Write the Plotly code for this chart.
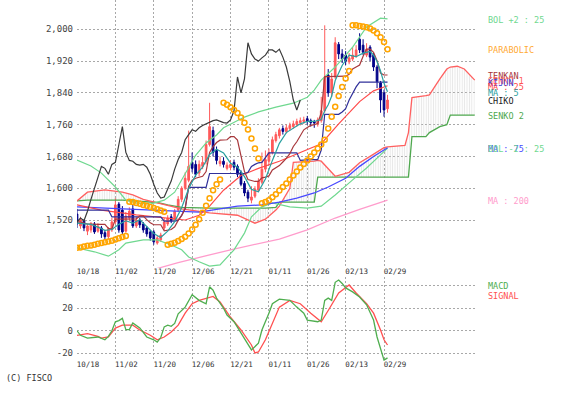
import plotly.graph_objects as go

# ------------------------------------------------------------------ data
tick_bars = [0, 11, 22, 33, 44, 55, 66, 77, 88]
tick_labels = ["10/18", "11/02", "11/20", "12/06", "12/21", "01/11", "01/26", "02/13", "02/29"]

price_ticks = [1520, 1600, 1680, 1760, 1840, 1920, 2000]
macd_ticks = [40, 20, 0, -20]
macd_tick_labels = ["40", "20", "0", "-20"]

open_ = [1535, 1505, 1518, 1492, 1495, 1510, 1492, 1500, 1488, 1478,
         1495, 1515, 1560, 1545, 1492, 1525, 1548, 1505, 1520, 1510,
         1500, 1490, 1490, 1462, 1470, 1500, 1510, 1528, 1520, 1545,
         1572, 1600, 1620, 1665, 1660, 1638, 1655, 1668, 1710, 1745,
         1695, 1662, 1668, 1650, 1652, 1665, 1655, 1640, 1612, 1590,
         1570, 1580, 1595, 1615, 1648, 1668, 1690, 1720, 1732, 1750,
         1742, 1750, 1755, 1760, 1765, 1768, 1775, 1770, 1768, 1762,
         1770, 1795, 1885, 1840, 1880, 1962, 1938, 1935, 1918, 1925,
         1932, 1975, 1960, 1935, 1955, 1935, 1905, 1865, 1840, 1800]
high = [1548, 1528, 1522, 1510, 1515, 1515, 1512, 1505, 1495, 1502,
        1525, 1575, 1565, 1555, 1540, 1552, 1558, 1528, 1525, 1515,
        1505, 1495, 1495, 1480, 1488, 1525, 1532, 1535, 1548, 1580,
        1605, 1640, 1745, 1690, 1670, 1670, 1680, 1720, 1815, 1755,
        1705, 1680, 1678, 1665, 1670, 1672, 1660, 1645, 1618, 1596,
        1605, 1605, 1625, 1690, 1695, 1700, 1730, 1742, 1752, 1758,
        1760, 1765, 1770, 1775, 1778, 1780, 1782, 1775, 1772, 1778,
        1830, 2010, 1900, 1890, 1980, 1968, 1950, 1945, 1940, 1955,
        1960, 1990, 1975, 1965, 1960, 1940, 1910, 1870, 1848, 1835]
low = [1500, 1498, 1492, 1482, 1488, 1485, 1488, 1475, 1470, 1472,
       1490, 1510, 1488, 1485, 1488, 1518, 1500, 1500, 1500, 1488,
       1478, 1468, 1458, 1458, 1465, 1495, 1505, 1512, 1515, 1540,
       1565, 1595, 1615, 1640, 1628, 1630, 1648, 1660, 1705, 1680,
       1660, 1655, 1652, 1645, 1645, 1645, 1628, 1605, 1580, 1565,
       1562, 1575, 1590, 1610, 1640, 1660, 1685, 1715, 1725, 1735,
       1738, 1745, 1750, 1755, 1758, 1762, 1760, 1755, 1752, 1755,
       1765, 1790, 1830, 1830, 1875, 1925, 1915, 1910, 1912, 1920,
       1928, 1940, 1935, 1930, 1920, 1895, 1852, 1790, 1780, 1790]
close = [1510, 1520, 1500, 1505, 1510, 1490, 1505, 1485, 1478, 1498,
         1515, 1558, 1495, 1490, 1530, 1542, 1505, 1520, 1508, 1495,
         1485, 1475, 1465, 1475, 1482, 1515, 1525, 1518, 1542, 1572,
         1600, 1625, 1655, 1650, 1635, 1660, 1665, 1710, 1755, 1690,
         1670, 1668, 1660, 1658, 1660, 1653, 1635, 1610, 1588, 1575,
         1578, 1598, 1618, 1648, 1672, 1690, 1722, 1735, 1747, 1743,
         1752, 1758, 1762, 1768, 1770, 1772, 1768, 1765, 1764, 1772,
         1795, 1880, 1840, 1875, 1966, 1938, 1925, 1920, 1928, 1935,
         1948, 1948, 1942, 1950, 1930, 1905, 1868, 1822, 1797, 1822]
bars = list(range(len(close)))
CHIKOU_SHIFT = 25

tenkan = [1515, 1515, 1512, 1510, 1510, 1509, 1509, 1509, 1509, 1499,
          1497, 1522, 1522, 1522, 1522, 1522, 1522, 1523, 1530, 1530,
          1521, 1513, 1508, 1508, 1508, 1493, 1495, 1496, 1503, 1519,
          1531, 1549, 1605, 1620, 1625, 1628, 1630, 1642, 1690, 1705,
          1715, 1721, 1721, 1722, 1730, 1730, 1721, 1680, 1642, 1622,
          1620, 1617, 1617, 1626, 1628, 1631, 1646, 1652, 1657, 1666,
          1675, 1687, 1705, 1717, 1731, 1747, 1753, 1758, 1760, 1763,
          1790, 1881, 1881, 1881, 1881, 1881, 1881, 1882, 1887, 1900,
          1905, 1910, 1932, 1950, 1950, 1942, 1921, 1890, 1885, 1885]
kijun = [1545, 1545, 1545, 1545, 1545, 1545, 1545, 1545, 1545, 1545,
         1528, 1528, 1528, 1528, 1528, 1528, 1528, 1528, 1528, 1528,
         1528, 1528, 1528, 1528, 1528, 1517, 1517, 1517, 1517, 1519,
         1532, 1549, 1602, 1602, 1602, 1602, 1602, 1602, 1637, 1637,
         1637, 1637, 1637, 1637, 1637, 1637, 1637, 1637, 1637, 1640,
         1655, 1660, 1664, 1665, 1678, 1689, 1689, 1689, 1689, 1689,
         1689, 1689, 1689, 1689, 1670, 1671, 1672, 1672, 1672, 1672,
         1696, 1786, 1786, 1786, 1786, 1786, 1792, 1800, 1822, 1840,
         1855, 1867, 1867, 1867, 1867, 1867, 1867, 1867, 1867, 1867]

ma5_bars = [0, 2, 4, 6, 8, 10, 12, 14, 16, 18, 20, 22, 24, 26, 28, 30, 32, 34, 36, 38,
            40, 42, 44, 46, 48, 50, 52, 54, 56, 58, 60, 62, 64, 66, 68, 70, 71, 72, 73, 74,
            76, 78, 80, 82, 84, 85, 86, 87, 88, 89]
ma5 = [1512, 1510, 1509, 1502, 1494, 1496, 1509, 1518, 1512, 1521, 1503, 1486, 1476, 1492,
       1516, 1551, 1599, 1633, 1653, 1685, 1698, 1689, 1663, 1653, 1629, 1597, 1591, 1623,
       1670, 1713, 1740, 1752, 1762, 1768, 1768, 1773, 1795, 1810, 1832, 1871, 1909, 1935,
       1931, 1940, 1944, 1935, 1919, 1895, 1864, 1843]

ma25_bars = [0, 7, 17, 27, 31, 35, 38, 42, 47, 52, 58, 64, 70, 75, 81, 85, 89]
ma25 = [1558, 1545, 1533, 1525, 1520, 1532, 1555, 1595, 1632, 1650, 1668, 1690, 1712,
        1762, 1818, 1845, 1858]

ma75_bars = [0, 12, 24, 35, 46, 53, 58, 63, 68, 72, 77, 81, 85, 89]
ma75 = [1553, 1548, 1543, 1540, 1555, 1558, 1565, 1575, 1588, 1603, 1625, 1655, 1680, 1702]

ma200_bars = [0, 29, 44, 58, 66, 74, 81, 89]
ma200 = [1340, 1413, 1445, 1472, 1495, 1525, 1547, 1570]

bol_up_bars = [0, 4, 7, 11, 14, 17, 21, 25, 28, 31, 34, 37, 40, 42, 48, 52, 57, 62, 66,
               68, 70, 74, 79, 83, 87, 89]
bol_up = [1671, 1656, 1638, 1603, 1570, 1563, 1560, 1570, 1590, 1638, 1683, 1714, 1734,
          1752, 1779, 1792, 1804, 1814, 1829, 1847, 1872, 1905, 1955, 2006, 2028, 2026]
bol_dn_bars = [0, 5, 9, 12, 14, 19, 23, 27, 30, 32, 35, 38, 41, 45, 48, 50, 53, 56, 61,
               66, 70, 74, 79, 83, 87, 89]
bol_dn = [1450, 1440, 1429, 1445, 1462, 1470, 1470, 1457, 1445, 1427, 1415, 1404, 1407,
          1445, 1487, 1528, 1553, 1563, 1553, 1550, 1555, 1583, 1621, 1651, 1684, 1701]

parabolic = [1450, 1451, 1453, 1455, 1456, 1458, 1460, 1462, 1464, 1466,
             1468, 1471, 1474, 1477, 1480,
             1566, 1565, 1563, 1561, 1558, 1556, 1553, 1550, 1547, 1544, 1541,
             1458, 1460, 1463, 1467, 1472, 1478, 1486, 1496, 1508, 1522, 1538, 1556,
             1575, 1595, 1610, 1622,
             1815, 1810, 1804, 1797, 1789, 1778, 1765, 1748, 1725, 1700, 1675,
             1562, 1565, 1570, 1577, 1585, 1594, 1603, 1612, 1622, 1632, 1642, 1652,
             1661, 1670, 1680, 1690, 1700, 1710, 1722, 1750, 1780, 1805, 1832, 1855,
             1876, 1895,
             2010, 2010, 2008, 2007, 2005, 2002, 1997, 1990, 1980, 1968, 1950]

cloud_bars = [0, 3, 8, 13, 16, 19, 23, 26, 30, 38, 46, 51, 54, 57, 58, 61, 62, 68, 69, 70,
              72, 74, 78, 81, 84, 88, 89, 94, 95, 96, 100, 101, 104, 106, 107, 109, 111,
              113, 114]
senko1 = [1568, 1590, 1596, 1590, 1583, 1572, 1563, 1556, 1548, 1538, 1532, 1512, 1522,
          1545, 1555, 1600, 1665, 1668, 1670, 1668, 1650, 1630, 1640, 1664, 1680, 1702,
          1704, 1708, 1740, 1828, 1833, 1835, 1875, 1900, 1905, 1907, 1900, 1880, 1872]
senko2 = [1568, 1570, 1570, 1570, 1568, 1566, 1564, 1558, 1552, 1550, 1550, 1550, 1550,
          1552, 1565, 1565, 1565, 1565, 1628, 1628, 1628, 1628, 1628, 1628, 1628, 1628,
          1628, 1628, 1628, 1730, 1730, 1740, 1755, 1760, 1784, 1784, 1784, 1784, 1784]

macd_bars = [0, 1, 3, 6, 8, 9, 10, 11, 12, 13, 14, 15, 16, 18, 20, 22, 23, 24, 25, 26,
             27, 28, 29, 31, 33, 35, 37, 38, 39, 40, 42, 43, 45, 47, 49, 50, 52, 53, 55,
             56, 58, 61, 63, 65, 66, 69, 70, 71, 72, 73, 74, 75, 76, 77, 79, 81, 83, 85,
             86, 87, 88, 89]
macd = [0, -4, -6.5, -5.5, -8, -5, 0, 8, 9, 11, 1, 1, 7, 2.5, -5.5, -8, -10, -6, 3.5, 5,
        4, 6.5, 15, 21, 32, 27, 24, 39, 36, 29, 20, 14, 8, -2, -11, -17, -11, 0.7, 15.6,
        24, 28, 27, 21, 15.6, 9.5, 8, 9.5, 27, 29, 27, 43, 45, 42, 38, 34.5, 30, 23, 9.5,
        -5.5, -17, -26, -24]
signal_bars = [0, 3, 6, 7, 9, 11, 13, 16, 18, 21, 23, 25, 27, 29, 31, 33, 35, 37, 39, 41,
               44, 47, 50, 51, 52, 54, 56, 58, 61, 64, 67, 70, 72, 75, 78, 80, 83, 85, 87,
               88, 89]
signal = [-4, -2.5, -5, -6.5, -5.5, 2.4, 5, 5, 0.7, -4, -8, -5.5, -1, 5, 15.6, 24, 27, 29,
          30.5, 25.5, 12, 0.7, -12.6, -19.7, -18.8, -8, 7, 21, 27, 24, 15.6, 8, 18, 33.5,
          40.6, 33.5, 24, 15.6, 0.7, -8, -12.6]

series_labels = ["BOL +2 : 25", "PARABOLIC", "TENKAN", "SENKO 1", "KIJUN", "MA : 25",
                 "MA : 5", "CHIKO", "SENKO 2", "MA : 75", "BOL -2 : 25", "MA : 200"]
macd_labels = ["MACD", "SIGNAL"]
copyright_text = "(C) FISCO"

# ------------------------------------------------------------------ styles
W, H = 561, 394
PX_LEFT, PX_RIGHT = 77, 477
PX_PER_BAR = 3.489
MONO = "DejaVu Sans Mono"
GRID = dict(showgrid=True, gridcolor="#a8a8a8", griddash="2px,2px", gridwidth=1,
            zeroline=False, showline=False, ticks="")

C_UP, C_DN = "#ff5a5a", "#000088"
C_BOL = "#6fd88f"
C_SAR = "#ffa500"
C_TENKAN = "#a8383c"
C_KIJUN = "#30309a"
C_MA25 = "#ff4a4a"
C_MA5 = "#2aa0a0"
C_CHIKO = "#3a3a3a"
C_SENKO1 = "#ff6060"
C_SENKO2 = "#4fa84f"
C_MA75 = "#4848ff"
C_MA200 = "#ff9ccc"
C_MACD = "#4fae4f"
C_SIGNAL = "#ff5050"

x_max = (PX_RIGHT - PX_LEFT) / PX_PER_BAR


def py(p):
    return 1 - p / H


fig = go.Figure()

# ichimoku cloud (senko span 2 then span 1 filled with vertical hatch)
fig.add_trace(go.Scatter(x=cloud_bars, y=senko2, mode="lines",
                         line=dict(color=C_SENKO2, width=1.3), hoverinfo="skip"))
fig.add_trace(go.Scatter(x=cloud_bars, y=senko1, mode="lines",
                         line=dict(color=C_SENKO1, width=1.3), fill="tonexty",
                         fillcolor="rgba(255,255,255,0)",
                         fillpattern=dict(shape="|", fgcolor="#cdcdcd", bgcolor="rgba(255,255,255,0)",
                                          size=2.4, solidity=0.4),
                         hoverinfo="skip"))

# moving averages / bands behind candles
fig.add_trace(go.Scatter(x=ma200_bars, y=ma200, mode="lines", line=dict(color=C_MA200, width=1.3)))
fig.add_trace(go.Scatter(x=bol_up_bars, y=bol_up, mode="lines", line=dict(color=C_BOL, width=1.2)))
fig.add_trace(go.Scatter(x=bol_dn_bars, y=bol_dn, mode="lines", line=dict(color=C_BOL, width=1.2)))
fig.add_trace(go.Scatter(x=ma75_bars, y=ma75, mode="lines", line=dict(color=C_MA75, width=1.3)))

fig.add_trace(go.Candlestick(
    x=bars, open=open_, high=high, low=low, close=close,
    increasing=dict(line=dict(color=C_UP, width=1), fillcolor=C_UP),
    decreasing=dict(line=dict(color=C_DN, width=1), fillcolor=C_DN),
    whiskerwidth=0, hoverinfo="skip"))

fig.add_trace(go.Scatter(x=ma25_bars, y=ma25, mode="lines", line=dict(color=C_MA25, width=1.2)))
fig.add_trace(go.Scatter(x=bars, y=kijun, mode="lines", line=dict(color=C_KIJUN, width=1.2)))
fig.add_trace(go.Scatter(x=bars, y=tenkan, mode="lines", line=dict(color=C_TENKAN, width=1.2)))
fig.add_trace(go.Scatter(x=ma5_bars, y=ma5, mode="lines", line=dict(color=C_MA5, width=1.2)))
fig.add_trace(go.Scatter(x=bars[:len(close) - CHIKOU_SHIFT], y=close[CHIKOU_SHIFT:], mode="lines",
                         line=dict(color=C_CHIKO, width=1.2)))
fig.add_trace(go.Scatter(x=bars, y=parabolic, mode="markers",
                         marker=dict(symbol="circle-open", size=5, color=C_SAR,
                                     line=dict(width=1.5, color=C_SAR))))

# MACD panel
fig.add_trace(go.Scatter(x=signal_bars, y=signal, mode="lines", xaxis="x2", yaxis="y2",
                         line=dict(color=C_SIGNAL, width=1.3)))
fig.add_trace(go.Scatter(x=macd_bars, y=macd, mode="lines", xaxis="x2", yaxis="y2",
                         line=dict(color=C_MACD, width=1.3)))

xdom = [PX_LEFT / W, PX_RIGHT / W]
tick_font = dict(family=MONO, size=7.5, color="#333333")
ytick_font = dict(family=MONO, size=9, color="#444444")

xcommon = dict(domain=xdom, range=[0, x_max], tickmode="array", tickvals=tick_bars,
               ticktext=tick_labels, tickfont=tick_font, ticklabelshift=11,
               ticklabelstandoff=-3, **GRID)

fig.update_layout(
    width=W, height=H, margin=dict(l=0, r=0, t=0, b=0),
    paper_bgcolor="white", plot_bgcolor="white", showlegend=False,
    xaxis=dict(anchor="y", rangeslider=dict(visible=False), **xcommon),
    yaxis=dict(domain=[py(268), 1], range=[1399.2, 2073.7], tickmode="array",
               tickvals=price_ticks, tickformat=",d", tickfont=ytick_font,
               ticklabelstandoff=3, **GRID),
    xaxis2=dict(anchor="y2", matches="x", **xcommon),
    yaxis2=dict(domain=[py(361), py(277)], range=[-26.8, 47.7], tickmode="array",
                tickvals=macd_ticks, ticktext=macd_tick_labels, tickfont=ytick_font,
                ticklabelstandoff=3, **GRID),
)

# right-hand series labels, placed at each series' last value
label_values = [bol_up[-1], parabolic[-1], tenkan[-1], senko1[-1], kijun[-1], ma25[-1],
                ma5[-1], close[-1], senko2[-1], ma75[-1], bol_dn[-1], ma200[-1]]
label_colors = [C_BOL, "#ffaa33", C_TENKAN, C_SENKO1, "#4040d0", C_MA25, C_MA5, "#222222",
                C_SENKO2, C_MA75, C_BOL, C_MA200]
for text, val, col in zip(series_labels, label_values, label_colors):
    fig.add_annotation(x=486 / W, xref="paper", y=val, yref="y", text=text, showarrow=False,
                       xanchor="left", yanchor="middle", yshift=-1,
                       font=dict(family=MONO, size=8.5, color=col))

for text, ypx, col in zip(macd_labels, [286, 296], [C_MACD, C_SIGNAL]):
    fig.add_annotation(x=486 / W, xref="paper", y=py(ypx), yref="paper", text=text,
                       showarrow=False, xanchor="left", yanchor="middle",
                       font=dict(family=MONO, size=8.5, color=col))

fig.add_annotation(x=4 / W, xref="paper", y=py(378), yref="paper", text=copyright_text,
                   showarrow=False, xanchor="left", yanchor="middle",
                   font=dict(family=MONO, size=8.5, color="#333333"))

fig.write_html("out.html", config={"displayModeBar": False},
               post_script="document.body.style.margin='0';")
